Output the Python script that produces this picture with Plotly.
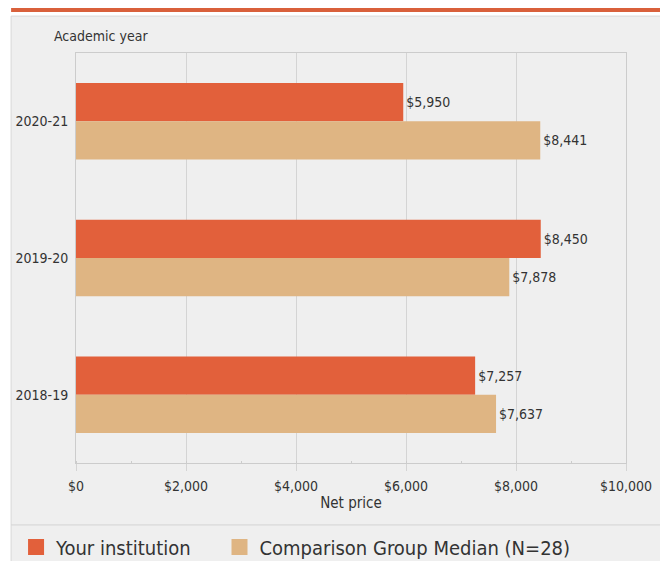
import plotly.graph_objects as go

years = ["2020-21", "2019-20", "2018-19"]
institution = [5950, 8450, 7257]
comparison = [8441, 7878, 7637]

ORANGE = "#e2603b"
TAN = "#dfb583"
FONT = "DejaVu Sans Condensed, Liberation Sans Narrow, Arial Narrow, Liberation Sans, sans-serif"

fig = go.Figure()
fig.add_trace(go.Bar(
    y=years, x=institution, orientation="h", name="Your institution",
    marker=dict(color=ORANGE, line=dict(width=0)),
    texttemplate="$%{x:,}", textposition="outside",
    textfont=dict(size=14, color="#333333"), cliponaxis=False,
    showlegend=False))
fig.add_trace(go.Bar(
    y=years, x=comparison, orientation="h", name="Comparison Group Median (N=28)",
    marker=dict(color=TAN, line=dict(width=0)),
    texttemplate="$%{x:,}", textposition="outside",
    textfont=dict(size=14, color="#333333"), cliponaxis=False,
    showlegend=False))

# legend entries with bigger square swatches
legend_names = ["Your institution\u00a0\u00a0\u00a0\u00a0", "Comparison Group Median (N=28)"]
for name, col in zip(legend_names, [ORANGE, TAN]):
    fig.add_trace(go.Scatter(
        x=[None], y=[None], mode="markers", name=name,
        marker=dict(symbol="square", size=16, color=col)))

fig.update_layout(
    width=660, height=553,
    paper_bgcolor="white", plot_bgcolor="#efefef",
    font=dict(family=FONT, size=14, color="#333333"),
    margin=dict(l=68, r=42, t=45, b=98, autoexpand=False),
    barmode="group", bargap=0.44, bargroupgap=0,
    showlegend=True,
    legend=dict(orientation="h", x=-0.109, xref="paper", y=-0.205,
                yanchor="middle", xanchor="left",
                font=dict(size=20, color="#333333"),
                bgcolor="rgba(0,0,0,0)", itemwidth=30),
    shapes=[
        dict(type="rect", xref="paper", yref="paper",
             x0=-0.118, x1=1.069, y0=-0.3, y1=1.09,
             fillcolor="#efefef", line=dict(color="#d8d8d8", width=1),
             layer="below"),
        dict(type="line", xref="paper", yref="paper",
             x0=-0.118, x1=1.069, y0=-0.151, y1=-0.151,
             line=dict(color="#d4d4d4", width=1)),
        dict(type="line", xref="paper", yref="paper",
             x0=-0.118, x1=1.2, y0=1.105, y1=1.105,
             line=dict(color="#d9603b", width=4)),
    ],
    annotations=[
        dict(text="Academic year", xref="paper", yref="paper",
             x=-0.044, y=1.041, xanchor="left", yanchor="middle",
             showarrow=False, font=dict(size=14, color="#333333")),
    ],
)

fig.update_xaxes(
    range=[0, 10000], dtick=2000, tickprefix="$", tickformat=",",
    showgrid=True, gridcolor="#d4d4d4", gridwidth=1,
    showline=True, linecolor="#cccccc", mirror=True,
    ticks="outside", tickcolor="#d4d4d4", ticklen=7,
    minor=dict(dtick=1000, ticks="inside", ticklen=2, tickcolor="#cccccc",
               showgrid=False),
    tickfont=dict(size=14), zeroline=False, automargin=False,
    ticklabelstandoff=3,
    title=dict(text="Net price", font=dict(size=15), standoff=4),
)
fig.update_yaxes(
    autorange="reversed", showline=True, linecolor="#cccccc", mirror=True,
    tickfont=dict(size=14), ticks="", ticklabelstandoff=4, automargin=False,
)

fig.write_html("out.html")
